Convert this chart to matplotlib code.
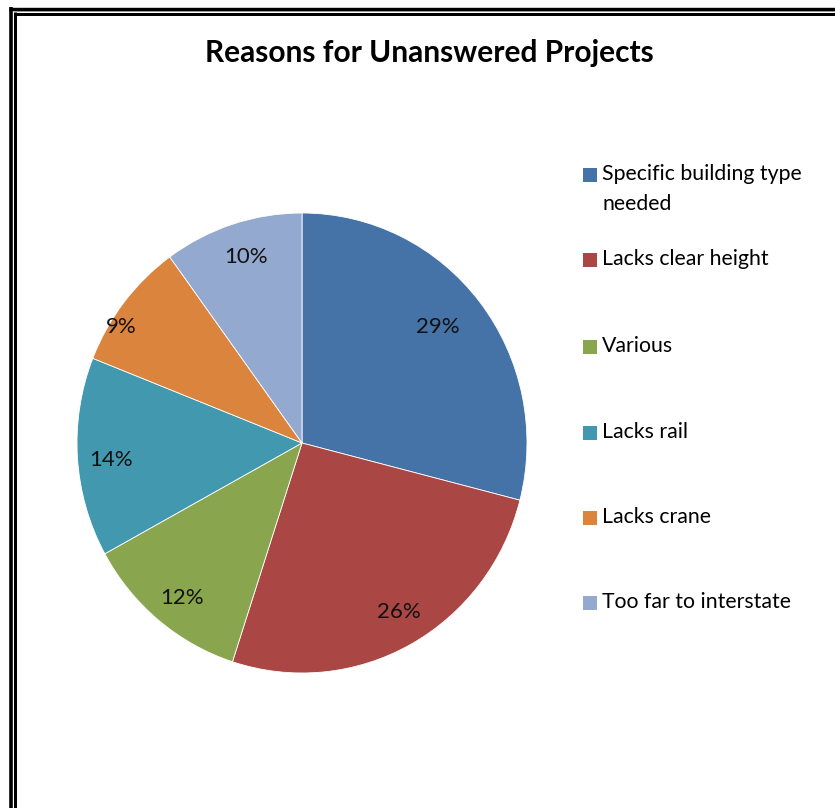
import matplotlib
matplotlib.use("Agg")
import matplotlib.pyplot as plt
from matplotlib.patches import Rectangle
from matplotlib.lines import Line2D
import numpy as np

categories = ["Specific building type\nneeded", "Lacks clear height", "Various",
              "Lacks rail", "Lacks crane", "Too far to interstate"]
values = [29, 26, 12, 14, 9, 10]
colors = ["#4572A7", "#AA4643", "#89A54E", "#4198AF", "#DB843D", "#93A9CF"]
title = "Reasons for Unanswered Projects"

W, H = 835, 808
fig = plt.figure(figsize=(W / 100, H / 100), dpi=100)
plt.rcParams['font.family'] = ['Lato', 'DejaVu Sans']

PT = 0.72  # points per pixel at dpi 100

def hline(y, x0, x1, lw, c):
    fig.add_artist(Line2D([x0 / W, x1 / W], [1 - y / H, 1 - y / H], lw=lw * PT, color=c,
                          transform=fig.transFigure, solid_capstyle='butt'))

def vline(x, y0, y1, lw, c):
    fig.add_artist(Line2D([x / W, x / W], [1 - y0 / H, 1 - y1 / H], lw=lw * PT, color=c,
                          transform=fig.transFigure, solid_capstyle='butt'))

# double frame
vline(10.7, 7, 808, 3.6, 'black')
hline(8.7, 9, 835, 3.4, 'black')
vline(15.2, 12, 808, 3.0, 'black')
hline(13.5, 13.7, 835, 3.0, 'black')
hline(11.3, 14, 835, 1.0, '#999999')

# title
fig.text(429 / W, 1 - 53 / H, title, ha='center', va='center',
         fontsize=21.5, fontweight='bold', color='black')

# pie
cx, cy, rx, ry = 302, 443, 225, 230
ax = fig.add_axes([(cx - rx) / W, 1 - (cy + ry) / H, 2 * rx / W, 2 * ry / H])
wedges, texts, autotexts = ax.pie(values, colors=colors, startangle=90, counterclock=False,
                                  autopct='%1.0f%%', pctdistance=0.85,
                                  wedgeprops=dict(edgecolor='white', linewidth=0.6),
                                  textprops=dict(fontsize=16, color='#111111'))
ax.set_xlim(-1, 1)
ax.set_ylim(-1, 1)
ax.set_aspect('auto')
ax.axis('off')

# label placement (Excel best-fit): radial distance and angular nudge
label_dist = [0.79, 0.845, 0.852, 0.851, 0.954, 0.854]
label_nudge = [2.5, 2.0, 0.9, 0.8, 5.3, -1.1]
for w, t, d, da in zip(wedges, autotexts, label_dist, label_nudge):
    ang = np.deg2rad((w.theta1 + w.theta2) / 2 + da)
    t.set_position((d * np.cos(ang), d * np.sin(ang)))
    t.set_va('center_baseline')

# legend
ys = [175, 260, 347, 433, 518, 603]
for lab, col, y in zip(categories, colors, ys):
    fig.add_artist(Rectangle((583 / W, 1 - (y + 7) / H), 14 / W, 14 / H,
                             facecolor=col, edgecolor='none', transform=fig.transFigure))
    fig.text(602 / W, 1 - (y - 11) / H, lab, ha='left', va='top', fontsize=15.3,
             color='black', linespacing=1.6)

fig.savefig("out.png", dpi=100)
